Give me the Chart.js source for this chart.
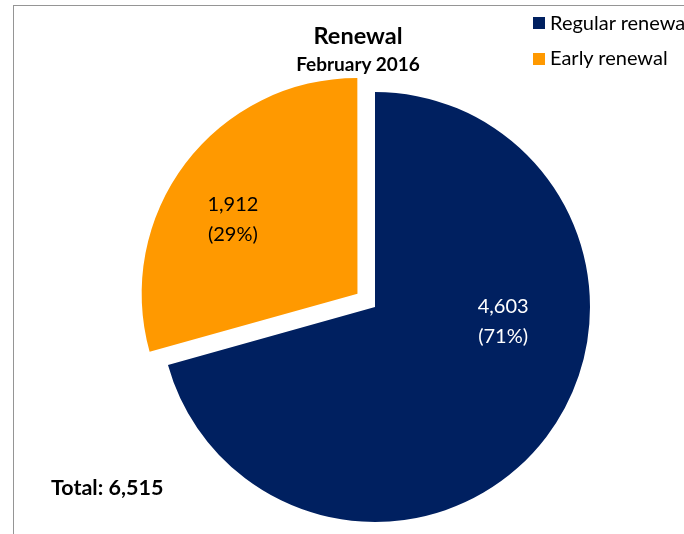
<!DOCTYPE html>
<html>
<head>
<meta charset="utf-8">
<script src="https://cdn.jsdelivr.net/npm/chart.js@4.4.1/dist/chart.umd.min.js"></script>
<style>
  html, body { margin: 0; padding: 0; width: 684px; height: 534px; overflow: hidden; background: #fff; }
  body { position: relative; font-family: Lato, "Noto Sans", sans-serif; color: #000; }
  #frame { position: absolute; left: 13px; top: 5px; width: 800px; height: 700px;
           border-top: 1px solid #959595; border-left: 1px solid #959595; box-sizing: border-box; }
  #chart-renovacion { position: absolute; left: 0; top: 0; }
  .txt { position: absolute; white-space: nowrap; line-height: 1; }
  #titulo { left: 358px; top: 24px; transform: translateX(-50%); font-size: 23.5px; font-weight: bold; }
  #subtitulo { left: 358px; top: 54px; transform: translateX(-50%); font-size: 19px; font-weight: bold; }
  #total { left: 51px; top: 477px; font-size: 21.5px; font-weight: bold; }
  .caja { position: absolute; left: 533px; width: 12px; height: 12px; }
  .leyenda-texto { position: absolute; left: 550px; font-size: 20px; line-height: 1; white-space: nowrap; }
</style>
</head>
<body>
<div id="frame"></div>
<canvas id="chart-renovacion" width="684" height="534"></canvas>
<div class="txt" id="titulo"></div>
<div class="txt" id="subtitulo"></div>
<div class="txt" id="total"></div>
<div id="leyenda"></div>
<script>
// Data
const categorias = ['Regular renewal', 'Early renewal'];
const valores = [4603, 1912];
const colores = ['#002060', '#FF9900'];
const tituloTexto = 'Renewal';
const subtituloTexto = 'February 2016';

const total = valores.reduce((a, b) => a + b, 0);
const fmt = (n) => n.toLocaleString('en-US');

document.getElementById('titulo').innerText = tituloTexto;
document.getElementById('subtitulo').innerText = subtituloTexto;
document.getElementById('total').innerText = 'Total: ' + fmt(total);

// Legend (cut at the right edge, like the original)
const leyendaTextoTop = [12, 47];
const leyendaCajaTop = [17, 53];
const leyenda = document.getElementById('leyenda');
categorias.forEach((cat, i) => {
    const caja = document.createElement('div');
    caja.className = 'caja';
    caja.style.top = leyendaCajaTop[i] + 'px';
    caja.style.background = colores[i];
    const texto = document.createElement('div');
    texto.className = 'leyenda-texto';
    texto.style.top = leyendaTextoTop[i] + 'px';
    texto.innerText = cat;
    leyenda.appendChild(caja);
    leyenda.appendChild(texto);
});

// Where each value label sits inside its slice
const etiquetaAngulo = [0.38, 0.44];   // fraction of the slice sweep
const etiquetaRadio = [0.6, 0.675];    // fraction of the radius
const etiquetaColor = ['#ffffff', '#000000'];

const etiquetasPlugin = {
    id: 'etiquetas',
    afterDatasetsDraw(chart) {
        const ctx = chart.ctx;
        const meta = chart.getDatasetMeta(0);
        ctx.save();
        ctx.font = '20px Lato, "Noto Sans", sans-serif';
        ctx.textAlign = 'center';
        ctx.textBaseline = 'middle';
        meta.data.forEach((arc, i) => {
            const p = arc.getProps(['x', 'y', 'startAngle', 'endAngle', 'outerRadius'], true);
            const mitad = (p.startAngle + p.endAngle) / 2;
            const desplaz = (arc.options.offset || 0) / 4;
            const cx = p.x + Math.cos(mitad) * desplaz;
            const cy = p.y + Math.sin(mitad) * desplaz;
            const ang = p.startAngle + (p.endAngle - p.startAngle) * etiquetaAngulo[i];
            const lx = cx + Math.cos(ang) * p.outerRadius * etiquetaRadio[i];
            const ly = cy + Math.sin(ang) * p.outerRadius * etiquetaRadio[i];
            const pct = Math.round(valores[i] / total * 100);
            ctx.fillStyle = etiquetaColor[i];
            ctx.fillText(fmt(valores[i]), lx, ly - 15);
            ctx.fillText('(' + pct + '%)', lx, ly + 15);
        });
        ctx.restore();
    }
};

const ctx = document.getElementById('chart-renovacion').getContext('2d');
const chartRenovacion = new Chart(ctx, {
    type: 'pie',
    data: {
        labels: categorias,
        datasets: [{
            data: valores,
            backgroundColor: colores,
            borderWidth: 0,
            offset: [0, 88],
            hoverOffset: 0
        }]
    },
    options: {
        responsive: false,
        animation: false,
        events: [],
        radius: 215,
        layout: { padding: { left: 66, right: 0, top: 80, bottom: 0 } },
        plugins: {
            legend: { display: false },
            tooltip: { enabled: false },
            title: { display: false }
        }
    },
    plugins: [etiquetasPlugin]
});
</script>
</body>
</html>
